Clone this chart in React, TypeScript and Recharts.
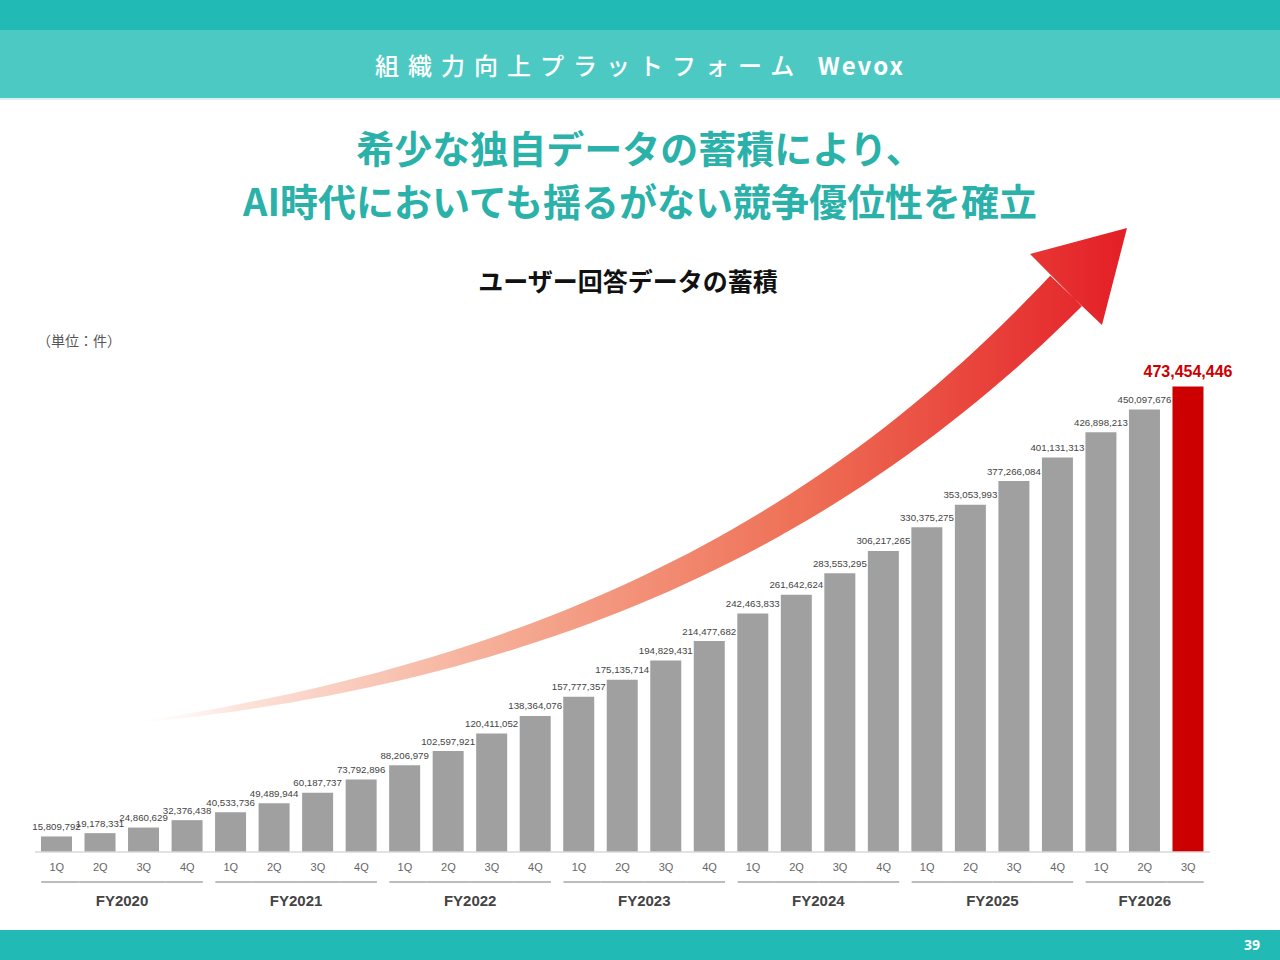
import React from "react";
import { BarChart, Bar, XAxis, YAxis, Cell, LabelList } from "recharts";

const fiscalYears = ["FY2020", "FY2021", "FY2022", "FY2023", "FY2024", "FY2025", "FY2026"];
const quartersPerYear = [4, 4, 4, 4, 4, 4, 3];
const quarterLabels = ["1Q", "2Q", "3Q", "4Q"];

// ユーザー回答データの蓄積（件）
const userResponses = [
  15809792, 19178331, 24860629, 32376438,
  40533736, 49489944, 60187737, 73792896,
  88206979, 102597921, 120411052, 138364076,
  157777357, 175135714, 194829431, 214477682,
  242463833, 261642624, 283553295, 306217265,
  330375275, 353053993, 377266084, 401131313,
  426898213, 450097676, 473454446,
];

const data: { id: string; fy: string; q: string; value: number }[] = [];
fiscalYears.forEach((fy, f) => {
  for (let q = 0; q < quartersPerYear[f]; q++) {
    data.push({ id: `${fy}-${quarterLabels[q]}`, fy, q: quarterLabels[q], value: userResponses[data.length] });
  }
});

const W = 1280;
const H = 960;
const M = { top: 380, right: 70, bottom: 30, left: 35 };
const BAR_W = 31;
const BAND = (W - M.left - M.right) / data.length;
const LAST = data.length - 1;

const TEAL = "#21BAB5";
const TEAL_LIGHT = "#4DC9C3";
const TEAL_TEXT = "#2AB1AA";
const GREY = "#A0A0A0";
const RED = "#CC0000";
const ARIAL = "'Liberation Sans', Arial, sans-serif";

const fmt = (v: number) => v.toLocaleString("en-US");

const QuarterTick = (props: any) => {
  const { x, y, payload } = props;
  const i = payload.index ?? data.findIndex((d) => d.id === payload.value);
  const d = data[i];
  if (!d) return null;
  const first = i === 0 || data[i - 1].fy !== d.fy;
  const last = i === LAST || data[i + 1].fy !== d.fy;
  const count = data.filter((e) => e.fy === d.fy).length;
  const x1 = first ? x - BAR_W / 2 : x - BAND / 2;
  const x2 = last ? x + BAR_W / 2 : x + BAND / 2;
  return (
    <g fontFamily={ARIAL}>
      <text x={x} y={y + 19} textAnchor="middle" fontSize={11} fill="#666">
        {d.q}
      </text>
      <line x1={x1} x2={x2} y1={y + 30} y2={y + 30} stroke="#A6A6A6" strokeWidth={1.3} />
      {first && (
        <text
          x={x + ((count - 1) / 2) * BAND}
          y={y + 54}
          textAnchor="middle"
          fontSize={15}
          fontWeight="bold"
          fill="#444"
        >
          {d.fy}
        </text>
      )}
    </g>
  );
};

const ValueLabel = (props: any) => {
  const { x, y, width, value, index } = props;
  const cx = x + width / 2;
  if (index === LAST) {
    return (
      <text x={cx} y={y - 9} textAnchor="middle" fontFamily={ARIAL} fontSize={16} fontWeight="bold" fill={RED}>
        {fmt(value)}
      </text>
    );
  }
  return (
    <text x={cx} y={y - 6.5} textAnchor="middle" fontFamily={ARIAL} fontSize={9.7} fill="#444">
      {fmt(value)}
    </text>
  );
};

// curved growth arrow drawn behind the chart
const arrowPath = () => {
  const p0 = [117, 725];
  const p1 = [517, 678];
  const p2 = [816, 549];
  const p3 = [1066, 291];
  const n = 60;
  const upper: number[][] = [];
  const lower: number[][] = [];
  for (let k = 0; k <= n; k++) {
    const t = k / n;
    const a = (1 - t) ** 3, b = 3 * (1 - t) ** 2 * t, c = 3 * (1 - t) * t * t, e = t ** 3;
    const px = a * p0[0] + b * p1[0] + c * p2[0] + e * p3[0];
    const py = a * p0[1] + b * p1[1] + c * p2[1] + e * p3[1];
    const dx = 3 * (1 - t) ** 2 * (p1[0] - p0[0]) + 6 * (1 - t) * t * (p2[0] - p1[0]) + 3 * t * t * (p3[0] - p2[0]);
    const dy = 3 * (1 - t) ** 2 * (p1[1] - p0[1]) + 6 * (1 - t) * t * (p2[1] - p1[1]) + 3 * t * t * (p3[1] - p2[1]);
    const len = Math.hypot(dx, dy);
    const nx = dy / len, ny = -dx / len;
    const hw = 22 * t ** 0.85;
    upper.push([px - nx * hw, py - ny * hw]);
    lower.push([px + nx * hw, py + ny * hw]);
  }
  const pts = [...upper, [1030, 254], [1127, 228], [1102, 325], ...lower.reverse()];
  return "M" + pts.map((p) => `${p[0].toFixed(1)},${p[1].toFixed(1)}`).join(" L") + " Z";
};

export default function App() {
  return (
    <div
      style={{
        position: "absolute",
        top: 0,
        left: 0,
        width: W,
        height: H,
        background: "#fff",
        overflow: "hidden",
        fontFamily: "'Noto Sans CJK JP', 'Liberation Sans', sans-serif",
      }}
    >
      <div style={{ position: "absolute", top: 0, left: 0, width: W, height: 30, background: TEAL }} />
      <div
        style={{
          position: "absolute",
          top: 30,
          left: 0,
          width: W,
          height: 70,
          background: TEAL_LIGHT,
          color: "#fff",
          fontSize: 24,
          fontWeight: 500,
          lineHeight: "70px",
          textAlign: "center",
          borderBottom: "2px solid #D6F1EF",
          boxSizing: "border-box",
        }}
      >
        <span style={{ letterSpacing: 9 }}>組織力向上プラットフォーム </span>
        <span style={{ letterSpacing: 2, fontWeight: 700 }}>Wevox</span>
      </div>
      <div
        style={{
          position: "absolute",
          top: 120,
          left: 0,
          width: W,
          textAlign: "center",
          color: TEAL_TEXT,
          fontSize: 38,
          fontWeight: 700,
          lineHeight: "53px",
        }}
      >
        希少な独自データの蓄積により、
        <br />
        AI時代においても揺るがない競争優位性を確立
      </div>
      <div
        style={{
          position: "absolute",
          top: 263,
          left: -12,
          width: W,
          textAlign: "center",
          color: "#111",
          fontSize: 25,
          fontWeight: 700,
          lineHeight: "34px",
        }}
      >
        ユーザー回答データの蓄積
      </div>
      <div style={{ position: "absolute", top: 330, left: 37, fontSize: 14, color: "#555", lineHeight: "20px" }}>
        （単位：件）
      </div>

      <svg width={W} height={H} style={{ position: "absolute", top: 0, left: 0 }}>
        <defs>
          <linearGradient id="arrowGrad" gradientUnits="userSpaceOnUse" x1={117} y1={0} x2={1127} y2={0}>
            <stop offset="0" stopColor="#FFFFFF" stopOpacity={0} />
            <stop offset="0.12" stopColor="#FCE3DA" />
            <stop offset="0.4" stopColor="#F5A890" />
            <stop offset="0.68" stopColor="#EE6F55" />
            <stop offset="1" stopColor="#E41E26" />
          </linearGradient>
        </defs>
        <path d={arrowPath()} fill="url(#arrowGrad)" />
      </svg>

      <div style={{ position: "absolute", top: 0, left: 0 }}>
        <BarChart width={W} height={H} data={data} margin={M}>
          <XAxis
            dataKey="id"
            interval={0}
            height={78}
            tickSize={0}
            tickMargin={0}
            tickLine={false}
            axisLine={{ stroke: "#D9D9D9", strokeWidth: 1.5 }}
            tick={<QuarterTick />}
          />
          <YAxis hide domain={[0, 480000000]} />
          <Bar dataKey="value" barSize={BAR_W} isAnimationActive={false}>
            {data.map((d, i) => (
              <Cell key={d.id} fill={i === LAST ? RED : GREY} />
            ))}
            <LabelList dataKey="value" content={<ValueLabel />} />
          </Bar>
        </BarChart>
      </div>

      <div
        style={{
          position: "absolute",
          top: 930,
          left: 0,
          width: W,
          height: 30,
          background: TEAL,
          color: "#fff",
          fontFamily: "'Noto Sans', sans-serif",
          fontWeight: 700,
          fontSize: 14,
          lineHeight: "30px",
          textAlign: "right",
          boxSizing: "border-box",
          paddingRight: 20,
        }}
      >
        39
      </div>
    </div>
  );
}
